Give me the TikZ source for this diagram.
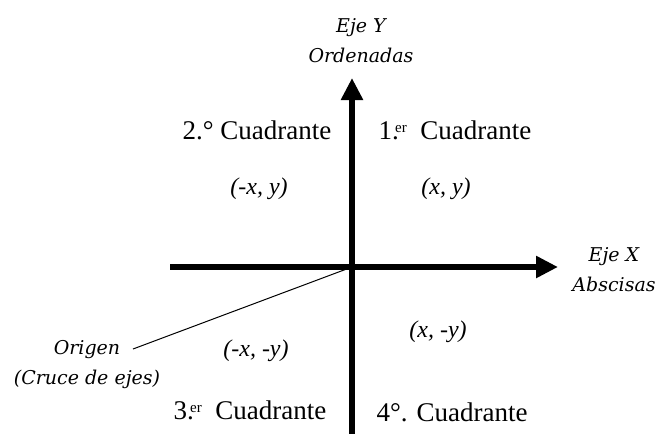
\documentclass[tikz,border=0pt]{standalone}
\usepackage{fontspec}
\setmainfont{Liberation Serif}
\newfontfamily\labelfont{DejaVu Serif}
\usetikzlibrary{arrows.meta, positioning, calc}

\newcommand{\ordinal}[2]{#1.\kern-0.14em\raisebox{0.55ex}{\fontsize{15}{15}\selectfont #2}}

\begin{document}
\begin{tikzpicture}[
      x=1pt, y=-1pt,
      axis/.style={line width=6pt, -{Triangle[length=22pt, width=21pt]}},
      quadrant/.style={font=\fontsize{27}{30}\selectfont, inner sep=0pt},
      pair/.style={font=\fontsize{24}{26}\selectfont\itshape, inner sep=0pt},
      axislabel/.style={font=\fontsize{19}{30}\selectfont\labelfont\itshape, align=center, inner sep=0pt}
    ]
    \useasboundingbox (0,0) rectangle (657,434);

    % axes
    \coordinate (O) at (352,267);
    \coordinate (ytop) at (352,78);
    \coordinate (ybot) at (352,434);
    \coordinate (xleft) at (170,267);
    \coordinate (xright) at (558,267);
    \draw[axis] (ybot) -- (ytop);
    \draw[axis] (xleft) -- (xright);

    \node[axislabel] (yname) at (361,41) {Eje Y\\Ordenadas};
    \node[axislabel] (xname) at (614,270) {Eje X\\Abscisas};

    % quadrants
    \node[quadrant] (q2) at (257,130) {2.° Cuadrante};
    \node[quadrant] (q1) at (455,130) {\ordinal{1}{er}\ \ Cuadrante};
    \node[quadrant] (q3) at (250,410) {\ordinal{3}{er}\ \ Cuadrante};
    \node[quadrant] (q4) at (452,412) {4°. Cuadrante};

    \node[pair] (p2) at (259,189) {(-x, y)};
    \node[pair] (p1) at (446,189) {(x, y)};
    \node[pair] (p3) at (256,351) {(-x,\ -y)};
    \node[pair] (p4) at (438,332) {(x,\ -y)};

    % origin
    \node[axislabel] (origen) at (87,365) {Origen\\(Cruce de ejes)};
    \coordinate (oend) at (133,349);
    \draw[line width=1pt] (oend) -- (O);
  \end{tikzpicture}
\end{document}
